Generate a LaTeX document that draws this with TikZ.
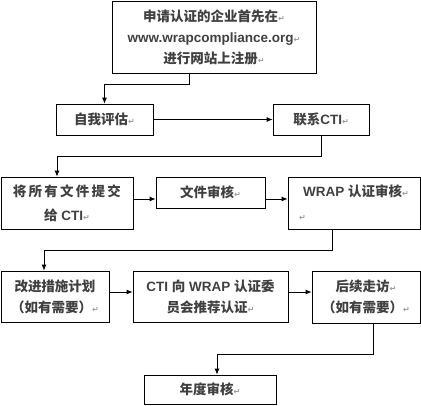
\documentclass[tikz,border=0pt]{standalone}
\usepackage{fontspec}
\setmainfont{Liberation Sans}
\newfontfamily\cjk{Noto Sans CJK SC}
\newfontfamily\retfont{DejaVu Sans}
\usepackage{tikz}
\usetikzlibrary{arrows.meta}
\usepackage{xcolor}
\definecolor{txtgray}{HTML}{404040}
\definecolor{markgray}{HTML}{9A9A9A}
\newcommand{\zh}[1]{{\cjk\bfseries #1}}
\newcommand{\rt}{{\retfont\fontsize{8pt}{8pt}\selectfont\color{markgray}↵}}

\tikzset{
  box/.style={draw, line width=0.8pt, inner sep=0pt, align=center,
    text=txtgray, font=\fontsize{13.5pt}{21pt}\selectfont\bfseries},
  flow/.style={-{Latex[length=6pt,width=5pt]}, line width=0.8pt}
}

\begin{document}
\begin{tikzpicture}[x=1pt,y=-1pt]
\useasboundingbox (0,0) rectangle (421,405);
% boxes
\node[box, minimum width=204pt, minimum height=72pt] (reg) at (214,37)
  {\zh{申请认证的企业首先在}\rt\\www.wrapcompliance.org\rt\\\zh{进行网站上注册}\rt};
\node[box, minimum width=97pt, minimum height=31pt] (self) at (104.5,119.5) {\zh{自我评估}\rt};
\node[box, minimum width=96pt, minimum height=31pt] (cti) at (321,119.5) {\zh{联系}CTI\rt};
\node[box, minimum width=132pt, minimum height=52pt] (submit) at (67,203)
  {\zh{将\,所\,有\,文\,件\,提\,交}\\[3pt]\zh{给} CTI\rt};
\node[box, minimum width=109pt, minimum height=31pt] (docs) at (210.5,192.5) {\zh{文件审核}\rt};
\node[box, minimum width=132pt, minimum height=52pt, align=left] (audit) at (354,203)
  {\hspace*{4pt}WRAP \zh{认证审核}\rt\\[3pt]\rt};
\node[box, minimum width=108pt, minimum height=51pt] (plan) at (55,296.5)
  {\zh{改进措施计划}\\\zh{（如有需要）}\rt};
\node[box, minimum width=155pt, minimum height=51pt] (recom) at (210.5,296.5)
  {CTI \zh{向} WRAP \zh{认证委}\\\zh{员会推荐认证}\rt};
\node[box, minimum width=108pt, minimum height=52pt] (visit) at (366,297)
  {\zh{后续走访}\rt\\\zh{（如有需要）}\rt};
\node[box, minimum width=132pt, minimum height=29pt] (annual) at (210,389.5) {\zh{年度审核}\rt};
% connectors
\draw[flow] ([xshift=-25pt]reg.south) -- ++(0,11) -| (self.north);
\draw[flow] (self.east) -- (cti.west);
\draw[flow] (cti.south) -- ++(0,21) -| ([xshift=-10pt]submit.north);
\draw[flow] ([yshift=4pt]submit.east) -- ([yshift=4pt]submit.east -| docs.west);
\draw[flow] ([yshift=4pt]submit.east -| docs.east) -- ([yshift=4pt]submit.east -| audit.west);
\draw[flow] ([xshift=-22pt]audit.south) -- ++(0,21) -| ([xshift=-11pt]plan.north);
\draw[flow] ([yshift=4.5pt]plan.east) -- ([yshift=4.5pt]plan.east -| recom.west);
\draw[flow] ([yshift=4.5pt]recom.east) -- ([yshift=4.5pt]recom.east -| visit.west);
\draw[flow] ([xshift=7pt]visit.south) -- ++(0,31) -| ([xshift=7pt]annual.north);
\end{tikzpicture}
\end{document}
